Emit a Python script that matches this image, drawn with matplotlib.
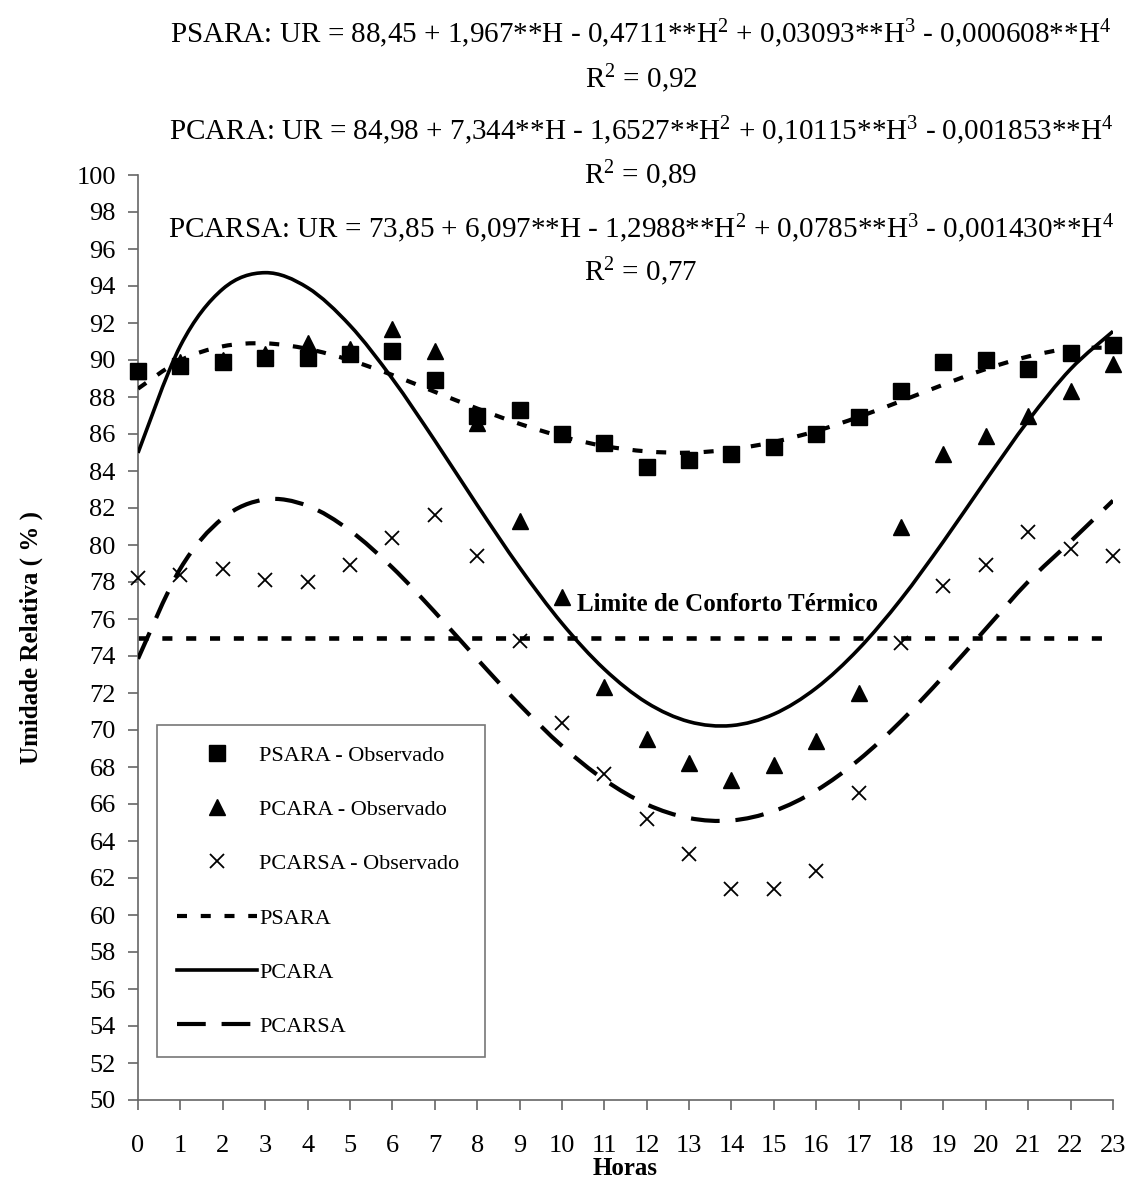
import matplotlib
matplotlib.use("Agg")
import matplotlib.pyplot as plt
from matplotlib.path import Path
from matplotlib.patches import PathPatch

plt.rcParams['font.family'] = 'Liberation Serif'
plt.rcParams['mathtext.fontset'] = 'custom'
plt.rcParams['mathtext.rm'] = 'Liberation Serif'

hours = list(range(24))

# observed values
psara_obs = [89.4, 89.7, 89.9, 90.1, 90.1, 90.3, 90.5, 88.9, 87.0, 87.3, 86.0, 85.5,
             84.2, 84.6, 84.9, 85.3, 86.0, 86.9, 88.3, 89.9, 90.0, 89.5, 90.4, 90.8]
pcara_obs = [89.4, 89.9, 90.0, 90.3, 90.9, 90.6, 91.7, 90.5, 86.6, 81.3, 77.2, 72.3,
             69.5, 68.2, 67.3, 68.1, 69.4, 72.0, 81.0, 84.9, 85.9, 87.0, 88.3, 89.8]
pcarsa_obs = [78.2, 78.4, 78.7, 78.1, 78.0, 78.9, 80.4, 81.6, 79.4, 74.8, 70.4, 67.6,
              65.2, 63.3, 61.4, 61.4, 62.4, 66.6, 74.7, 77.8, 78.9, 80.7, 79.8, 79.4]

# fitted curves, read hour by hour
psara_fit = [88.45, 89.98, 90.74, 90.90, 90.60, 89.99, 89.19, 88.28, 87.38, 86.55, 85.86, 85.35,
             85.06, 84.99, 85.17, 85.57, 86.16, 86.92, 87.78, 88.67, 89.51, 90.19, 90.62, 90.66]
pcara_fit = [84.98, 90.77, 93.84, 94.72, 93.91, 91.87, 88.99, 85.65, 82.16, 78.79, 75.77, 73.29,
             71.48, 70.45, 70.24, 70.86, 72.27, 74.38, 77.07, 80.19, 83.50, 86.72, 89.51, 91.55]
pcarsa_fit = [73.85, 78.73, 81.45, 82.46, 82.12, 80.78, 78.78, 76.38, 73.84, 71.37, 69.14, 67.31,
              65.98, 65.24, 65.11, 65.62, 66.73, 68.38, 70.48, 72.90, 75.47, 78.02, 80.19, 82.40]

comfort_limit = 75

equations = [
    r'PSARA: UR = 88,45 + 1,967**H - 0,4711**$\mathregular{H^2}$ + 0,03093**$\mathregular{H^3}$ - 0,000608**$\mathregular{H^4}$',
    r'$\mathregular{R^2}$ = 0,92',
    r'PCARA: UR = 84,98 + 7,344**H - 1,6527**$\mathregular{H^2}$ + 0,10115**$\mathregular{H^3}$ - 0,001853**$\mathregular{H^4}$',
    r'$\mathregular{R^2}$ = 0,89',
    r'PCARSA: UR = 73,85 + 6,097**H - 1,2988**$\mathregular{H^2}$ + 0,0785**$\mathregular{H^3}$ - 0,001430**$\mathregular{H^4}$',
    r'$\mathregular{R^2}$ = 0,77',
]
eq_baselines = [43, 88, 140, 184, 238, 281]


def smooth_path(xs, ys):
    # smoothed line through the points (like a spreadsheet "smoothed line")
    pts = list(zip(xs, ys))
    verts = [pts[0]]
    codes = [Path.MOVETO]
    n = len(pts)
    for i in range(n - 1):
        p0 = pts[max(i - 1, 0)]
        p1 = pts[i]
        p2 = pts[i + 1]
        p3 = pts[min(i + 2, n - 1)]
        c1 = (p1[0] + (p2[0] - p0[0]) / 6, p1[1] + (p2[1] - p0[1]) / 6)
        c2 = (p2[0] - (p3[0] - p1[0]) / 6, p2[1] - (p3[1] - p1[1]) / 6)
        verts += [c1, c2, p2]
        codes += [Path.CURVE4] * 3
    return Path(verts, codes)


W, H = 1128, 1193
fig = plt.figure(figsize=(W / 100, H / 100), dpi=100)
ax = fig.add_axes([138 / W, 1 - 1100 / H, (1113 - 138) / W, (1100 - 175) / H])

ax.plot(hours, psara_obs, ls='none', marker='s', ms=11, color='black', clip_on=False,
        label='PSARA - Observado', zorder=4)
ax.plot(hours, pcara_obs, ls='none', marker='^', ms=11, color='black', clip_on=False,
        label='PCARA - Observado', zorder=4)
ax.plot(hours, pcarsa_obs, ls='none', marker='x', ms=10, mew=1.3, color='black', clip_on=False,
        label='PCARSA - Observado', zorder=4)

fits = [(psara_fit, 'PSARA', 3, (2.4, 3.3)),
        (pcara_fit, 'PCARA', 2.6, None),
        (pcarsa_fit, 'PCARSA', 3, (6.9, 3.8))]
for ys, name, lw, dash in fits:
    ls = '-' if dash is None else (0, dash)
    ax.add_patch(PathPatch(smooth_path(hours, ys), fill=False, edgecolor='black',
                           lw=lw, linestyle=ls, zorder=3))
    # legend entry
    ax.plot([], [], color='black', lw=lw, linestyle=ls, label=name)

ax.axhline(comfort_limit, color='black', lw=3.3, dashes=(2.2, 3.0), zorder=2)
ax.text(13.9, 76.8, 'Limite de Conforto Térmico', ha='center', va='center',
        fontsize=18, fontweight='bold')

ax.set_xlim(0, 23)
ax.set_ylim(50, 100)
ax.set_xticks(hours)
ax.set_yticks(range(50, 101, 2))
for s in ['top', 'right']:
    ax.spines[s].set_visible(False)
for s in ['left', 'bottom']:
    ax.spines[s].set_color('#666666')
    ax.spines[s].set_linewidth(1.2)
ax.tick_params(axis='both', direction='out', length=7, width=1.2, color='#666666', labelsize=19)
ax.tick_params(axis='x', pad=18)
ax.tick_params(axis='y', pad=9)

ax.set_xlabel('Horas', fontsize=18, fontweight='bold', labelpad=0)
ax.set_ylabel('Umidade Relativa ( % )', fontsize=18, fontweight='bold', labelpad=24)

leg = ax.legend(loc='upper left',
                bbox_to_anchor=(157 / W, 1 - 725 / H - 0.01, (485 - 157) / W, 0.01),
                bbox_transform=fig.transFigure, mode='expand', borderaxespad=0,
                fontsize=16, frameon=True, fancybox=False, handlelength=3.6,
                handletextpad=0.1, labelspacing=1.52, borderpad=0.9, numpoints=1)
leg.get_frame().set_edgecolor('#555555')
leg.get_frame().set_linewidth(1.2)

for txt, yb in zip(equations, eq_baselines):
    fig.text(641 / W, 1 - yb / H, txt, ha='center', va='baseline', fontsize=21)

fig.savefig('out.png', dpi=100)
